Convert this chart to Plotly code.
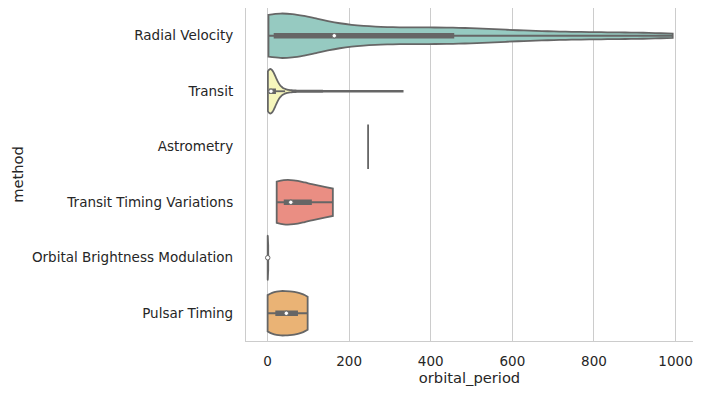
import numpy as np
import plotly.graph_objects as go

# ---------------- data ----------------
methods = ["Radial Velocity", "Transit", "Astrometry",
           "Transit Timing Variations", "Orbital Brightness Modulation", "Pulsar Timing"]

radial_velocity = [2.2, 2.6, 3.0, 3.1, 3.5, 3.5, 4.0, 4.2, 4.2, 4.6, 5.4, 6.4, 6.7, 7.1,
                   8.2, 9.5, 10.9, 11.8, 12.5, 13.2,
                   15.6, 17.5, 20.2, 23.4, 27.0, 31.1, 35.6, 40.5, 46.0, 52.0, 58.4, 65.1,
                   72.5, 80.7, 89.2, 98.4, 108.0, 120.3, 135.8, 158.9,
                   168.0, 178.0, 190.0, 204.0, 218.0, 233.0, 248.0, 262.0, 278.0, 295.0,
                   310.0, 326.0, 343.0, 360.0, 378.0, 395.0, 412.0, 428.0, 442.0, 455.0,
                   465.0, 478.0, 492.0, 508.0, 525.0, 545.0, 568.0, 590.0, 615.0, 642.0,
                   670.0, 700.0, 733.0, 768.0, 805.0, 845.0, 885.0, 925.0, 960.0, 993.0]

transit = [0.74, 0.84, 0.94, 1.03, 1.09, 1.12, 1.19, 1.27, 1.34, 1.42, 1.51, 1.58, 1.63,
           1.71, 1.79, 1.85, 1.9, 2.0, 2.05, 2.15, 2.24, 2.36, 2.47, 2.55, 2.61, 2.78, 2.9,
           3.05, 3.1, 3.22, 3.3, 3.41, 3.52, 3.68, 3.77, 3.85, 3.95, 4.05, 4.14, 4.23, 4.47,
           4.65, 4.88, 5.04, 5.22, 5.4, 5.6, 5.96, 6.1, 6.35, 6.71, 7.02, 7.25, 7.4,
           7.8, 8.2, 8.6, 8.9, 9.5, 9.9, 10.2, 10.9, 11.2, 11.5, 12.1, 12.5, 12.8, 13.3,
           13.7, 14.0, 14.3, 14.6, 15.2, 15.6, 15.9, 16.1, 16.4, 16.6, 16.7, 16.8, 16.9,
           17.6, 18.9, 20.2, 21.6, 23.0, 24.6, 26.3, 28.1, 30.2, 32.6, 35.4, 38.6, 43.0,
           49.0, 56.0, 66.0, 78.0, 92.0, 108.0, 124.0, 141.0, 158.0, 176.0, 194.0, 212.0,
           231.0, 250.0, 270.0, 290.0, 310.0, 331.0]

astrometry = [246.36]
transit_timing = [22.34, 57.01, 160.0]
orbital_brightness = [0.2407, 0.3426, 1.544]
pulsar_timing = [0.0907, 25.262, 66.5419, 98.2114]

groups = [radial_velocity, transit, astrometry, transit_timing, orbital_brightness, pulsar_timing]

x_ticks = [0, 200, 400, 600, 800, 1000]

# ---------------- style ----------------
fills = ["#96cac1", "#f6f6bc", "#c1bed6", "#ea8e83", "#8aafc9", "#eab375"]
gray = "#666666"
bandwidths = [88, 11, None, None, None, None]
VW = 0.8
FONT = "DejaVu Sans"

fig = go.Figure()

for i, (vals, col, bw) in enumerate(zip(groups, fills, bandwidths)):
    arr = np.asarray(vals, dtype=float)
    if arr.size == 1:
        fig.add_trace(go.Scatter(x=[arr[0], arr[0]], y=[i - VW / 2, i + VW / 2], mode="lines",
                                 line=dict(color=gray, width=1.8), showlegend=False,
                                 hoverinfo="skip"))
        continue
    if bw is None:
        bw = arr.std(ddof=1) * arr.size ** (-0.2)
    fig.add_trace(go.Violin(x=arr, y0=i, orientation="h", width=VW, side="both",
                            spanmode="hard", scalemode="width", bandwidth=bw,
                            points=False, box_visible=False, meanline_visible=False,
                            fillcolor=col, opacity=1, line=dict(color=gray, width=1.8),
                            showlegend=False, hoverinfo="skip"))
    q25, q50, q75 = np.percentile(arr, [25, 50, 75])
    lim = 1.5 * (q75 - q25)
    h1 = arr[arr >= q25 - lim].min()
    h2 = arr[arr <= q75 + lim].max()
    fig.add_trace(go.Scatter(x=[h1, h2], y=[i, i], mode="lines",
                             line=dict(color=gray, width=1.8), showlegend=False,
                             hoverinfo="skip"))
    fig.add_trace(go.Scatter(x=[q25, q75], y=[i, i], mode="lines",
                             line=dict(color=gray, width=5.5), showlegend=False,
                             hoverinfo="skip"))
    fig.add_trace(go.Scatter(x=[q50], y=[i], mode="markers",
                             marker=dict(color="white", size=4.5, line=dict(color=gray, width=1)),
                             showlegend=False, hoverinfo="skip"))

# the page body adds an 8px offset, so the figure is sized to fit the 701x397 window
fig.update_layout(
    width=693, height=389,
    margin=dict(l=238, r=8, t=0, b=56),
    paper_bgcolor="white", plot_bgcolor="white",
    font=dict(family=FONT, size=13.5, color="#262626"),
    showlegend=False,
)
fig.update_xaxes(range=[-52.9, 1042.8], tickvals=x_ticks, ticktext=[str(t) for t in x_ticks],
                 showgrid=True, gridcolor="#cccccc", gridwidth=1, automargin=False,
                 showline=True, mirror=True, linecolor="#cccccc", linewidth=1.25,
                 zeroline=False, ticks="", ticklabelstandoff=8,
                 title=dict(text="orbital_period", font=dict(size=14.7), standoff=4))
fig.update_yaxes(range=[5.5, -0.5], tickvals=list(range(len(methods))), ticktext=methods,
                 showgrid=False, showline=True, mirror=True, linecolor="#cccccc", linewidth=1.25,
                 zeroline=False, ticks="", ticklabelstandoff=9, automargin=False,
                 title=dict(text="method", font=dict(size=14.7), standoff=4))

fig.write_html("out.html")
